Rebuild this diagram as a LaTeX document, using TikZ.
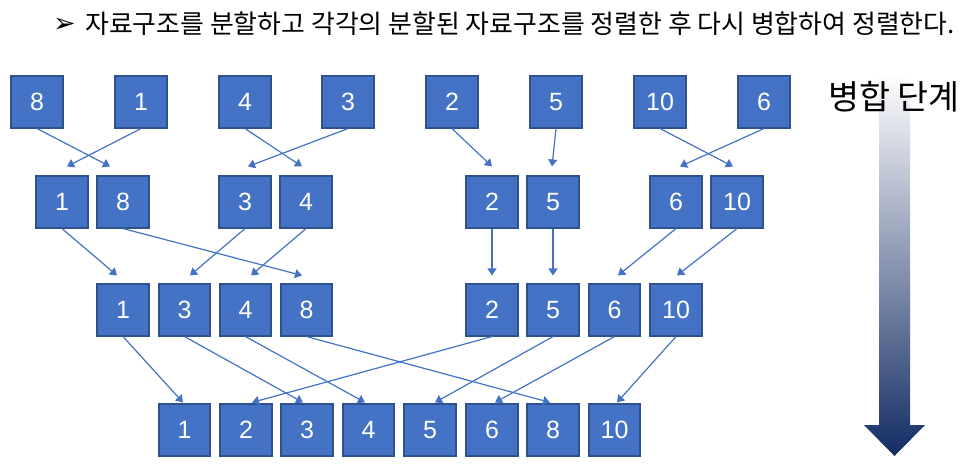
\documentclass[tikz,border=0pt]{standalone}
\usepackage{fontspec}
\setmainfont{Liberation Sans}
\newfontfamily\krfont{Noto Sans CJK KR}
\newfontfamily\symfont{DejaVu Sans}
\usetikzlibrary{arrows.meta}
\definecolor{boxblue}{HTML}{4472C4}
\definecolor{boxedge}{HTML}{2F528F}
\definecolor{stepnavy}{HTML}{132C63}
\definecolor{stepmid}{HTML}{B8C0D2}
\tikzset{
    >={Triangle[length=7pt,width=9pt]}, % flat triangle head, as in the slide
    cell/.style={rectangle, fill=boxblue, draw=boxedge, line width=1.6pt,
        minimum size=51.5pt, inner sep=0pt, text=white,
        font=\fontsize{25}{30}\selectfont},
    link/.style={->, draw=boxblue, line width=1.2pt},
    textlabel/.style={font=\krfont\fontsize{25.9}{30}\selectfont, text=black}
}

\begin{document}
\begin{tikzpicture}[x=1pt,y=-1pt]
  \useasboundingbox (0,0) rectangle (977,467);

  % Heading line
  \node[font=\symfont\fontsize{27}{30}\selectfont, inner sep=0pt] (bullet) at (64.5,25) {➢};
  \node[textlabel, anchor=west, inner sep=0pt] (title) at (85,24)
    {자료구조를 분할하고 각각의 분할된 자료구조를 정렬한 후 다시 병합하여 정렬한다.};

  % Row 1: split values
  \foreach \x/\lab [count=\i] in {37/8,141/1,245/4,348/3,452/2,556/5,660/10,764/6}
    \node[cell] (r1-\i) at (\x,102) {\lab};
  % Row 2: pairs merged
  \foreach \x/\lab [count=\i] in {62/1,123/8,245/3,306/4,492/2,553/5,676/6,737/10}
    \node[cell] (r2-\i) at (\x,202) {\lab};
  % Row 3: fours merged
  \foreach \x/\lab [count=\i] in {123/1,184.5/3,245.5/4,306.5/8,492/2,553/5,614.5/6,676/10}
    \node[cell] (r3-\i) at (\x,310) {\lab};
  % Row 4: final sorted list
  \foreach \x/\lab [count=\i] in {184.5/1,246/2,307/3,368.5/4,430/5,492/6,553/8,614.5/10}
    \node[cell] (r4-\i) at (\x,430) {\lab};

  % Connectors: source / target / tip offset
  \foreach \s/\d/\dx in {1/2/-13, 2/1/5, 3/4/-4, 4/3/3, 5/5/0, 6/6/-1, 7/8/-4, 8/7/4}
    \draw[link] (r1-\s.south) -- ([shift={(\dx,-9)}]r2-\d.north);
  \foreach \s/\d/\dx in {1/1/-6, 2/4/-4.5, 3/2/5.5, 4/3/5.5, 5/5/0, 6/6/0, 7/7/3.5, 8/8/1}
    \draw[link] (r2-\s.south) -- ([shift={(\dx,-8)}]r3-\d.north);
  \foreach \s/\d/\dx in {1/1/-1.5, 2/3/-4, 3/4/-3.5, 4/7/-3, 5/2/6, 6/5/5, 7/6/3, 8/8/2.5}
    \draw[link] (r3-\s.south) -- ([shift={(\dx,-1)}]r4-\d.north);

  % Merge direction arrow (fades in from the top)
  \shade[top color=white, middle color=stepmid, bottom color=stepnavy]
    (879,73) -- (910,73) -- (910,425) -- (925,425) -- (894.5,456)
    -- (864,425) -- (879,425) -- cycle;
  \node[textlabel, font=\krfont\fontsize{33.7}{38}\selectfont] (stage) at (894,97) {병합 단계};

\end{tikzpicture}
\end{document}
